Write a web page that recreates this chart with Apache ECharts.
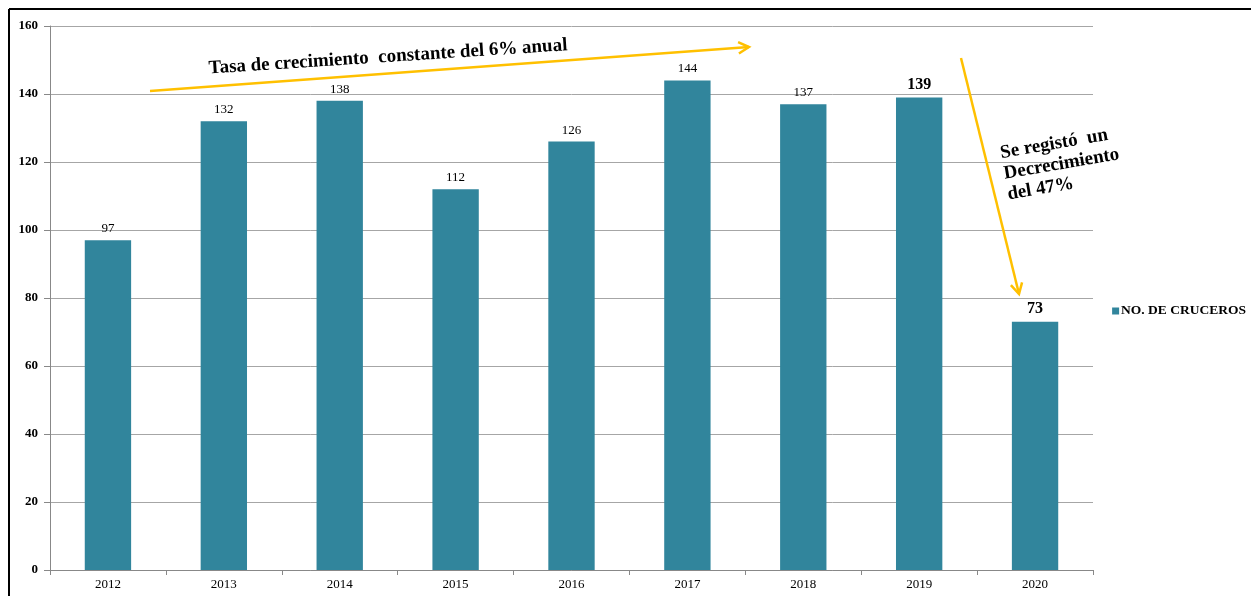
<!DOCTYPE html>
<html>
<head>
<meta charset="utf-8">
<script src="https://cdn.jsdelivr.net/npm/echarts@6/dist/echarts.min.js"></script>
<style>html,body{margin:0;padding:0;background:#fff}#c{width:1251px;height:596px}</style>
</head>
<body>
<div id="c"></div>
<script>
const categories = ['2012','2013','2014','2015','2016','2017','2018','2019','2020'];
const cruceros = [97,132,138,112,126,144,137,139,73];
const boldLabels = ['2019','2020'];
const seriesName = 'NO. DE CRUCEROS';
const growthNote = 'Tasa de crecimiento  constante del 6% anual';
const dropNote = 'Se registó  un\nDecrecimiento\ndel 47%';

const font = '"Liberation Serif", "Times New Roman", serif';
const barColor = '#31859C';
const arrowColor = '#FFC000';

const chart = echarts.init(document.getElementById('c'));
const data = cruceros.map((v, i) => {
  const bold = boldLabels.includes(categories[i]);
  return {
    value: v,
    label: bold ? { fontWeight: 'bold', fontSize: 16 } : undefined
  };
});

function arrowHead(x1, y1, x2, y2, len, spread) {
  const a = Math.atan2(y2 - y1, x2 - x1);
  const p1 = [x2 - len * Math.cos(a - spread), y2 - len * Math.sin(a - spread)];
  const p2 = [x2 - len * Math.cos(a + spread), y2 - len * Math.sin(a + spread)];
  return { type: 'polyline', shape: { points: [p1, [x2, y2], p2] }, style: { stroke: arrowColor, lineWidth: 2.5, fill: null }, z: 10 };
}

chart.setOption({
  animation: false,
  backgroundColor: '#fff',
  textStyle: { fontFamily: font },
  grid: { left: 50, right: 158, top: 26, bottom: 26 },
  legend: {
    right: 0, top: 299, orient: 'vertical',
    itemWidth: 7, itemHeight: 7, itemGap: 2,
    icon: 'rect',
    textStyle: { fontFamily: font, fontWeight: 'bold', fontSize: 13.5, color: '#000', padding: [0,0,0,-3] }
  },
  xAxis: {
    type: 'category', data: categories,
    axisLine: { lineStyle: { color: '#888', width: 1 } },
    axisTick: { show: true, length: 5, alignWithLabel: false, lineStyle: { color: '#888' } },
    axisLabel: { color: '#000', fontSize: 13, fontFamily: font, margin: 8 }
  },
  yAxis: {
    type: 'value', min: 0, max: 160, interval: 20,
    axisLine: { show: true, lineStyle: { color: '#888', width: 1 } },
    axisTick: { show: true, length: 6, lineStyle: { color: '#888' } },
    axisLabel: { color: '#000', fontSize: 13, fontWeight: 'bold', fontFamily: font, margin: 12 },
    splitLine: { lineStyle: { color: '#a6a6a6', width: 1 } }
  },
  series: [{
    name: seriesName, type: 'bar', data: data,
    barWidth: '40%',
    itemStyle: { color: barColor },
    label: { show: true, position: 'top', distance: 5, color: '#000', fontSize: 13, fontFamily: font }
  }],
  graphic: [
    { type: 'line', shape: { x1: 9, y1: 9, x2: 1260, y2: 9 }, style: { stroke: '#000', lineWidth: 2 } },
    { type: 'line', shape: { x1: 9, y1: 9, x2: 9, y2: 610 }, style: { stroke: '#000', lineWidth: 2 } },
    { type: 'line', shape: { x1: 150, y1: 91, x2: 749, y2: 47 }, style: { stroke: arrowColor, lineWidth: 2.5 }, z: 10 },
    arrowHead(150, 91, 749, 47, 12, 0.5),
    { type: 'text', x: 388, y: 57, rotation: 0.065, z: 11,
      style: { text: growthNote, font: 'bold 19px ' + font, fill: '#000', textAlign: 'center', textVerticalAlign: 'middle' } },
    { type: 'line', shape: { x1: 961, y1: 58, x2: 1019, y2: 294 }, style: { stroke: arrowColor, lineWidth: 2.5 }, z: 10 },
    arrowHead(961, 58, 1019, 294, 12, 0.5),
    { type: 'text', x: 1004, y: 174, rotation: 0.17, z: 11,
      style: { text: dropNote, font: 'bold 19px ' + font, fill: '#000', textAlign: 'left', textVerticalAlign: 'middle', lineHeight: 21 } }
  ]
});
</script>
</body>
</html>
